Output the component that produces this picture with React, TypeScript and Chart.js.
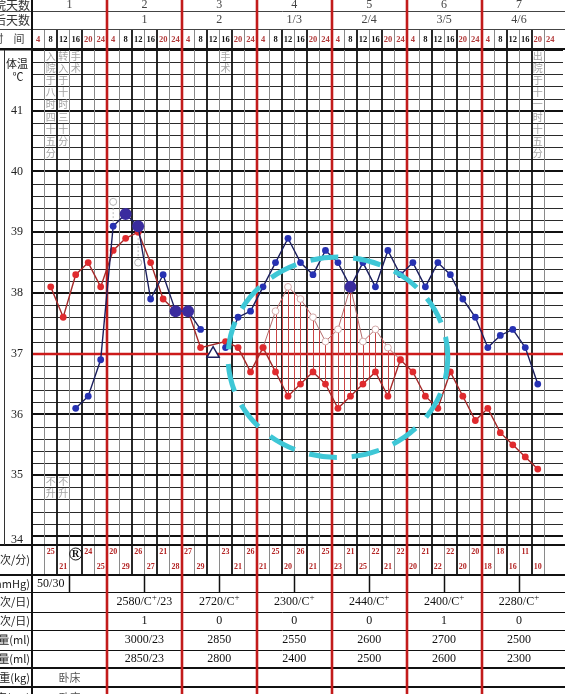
import React, { useEffect, useRef } from "react";
import { Chart, registerables } from "chart.js";

Chart.register(...registerables);

// ---------- data ----------
const dayNumbers = ["1", "2", "3", "4", "5", "6", "7"];
const postOpDays = ["", "1", "2", "1/3", "2/4", "3/5", "4/6"];
const timeLabels = ["4", "8", "12", "16", "20", "24"];
const nightTimes = ["4", "20", "24"];
const tempTicks = [41, 40, 39, 38, 37, 36, 35, 34];

// 42 time slots (7 days x 6)
const blueSeries: (number | null)[] = [
  null, null, null, 36.1, 36.3, 36.9,
  39.1, 39.3, 39.1, 37.9, 38.3, 37.7,
  37.7, 37.4, null, 37.1, 37.6, 37.7,
  38.1, 38.5, 38.9, 38.5, 38.3, 38.7,
  38.5, 38.1, 38.5, 38.1, 38.7, 38.3,
  38.5, 38.1, 38.5, 38.3, 37.9, 37.6,
  37.1, 37.3, 37.4, 37.1, 36.5, null,
];
const blueLarge = [7, 8, 11, 12, 25];

const redSeries: (number | null)[] = [
  null, 38.1, 37.6, 38.3, 38.5, 38.1,
  38.7, 38.9, 39.0, 38.5, 37.9, 37.7,
  37.7, 37.1, null, 37.2, 37.1, 36.7,
  37.1, 36.7, 36.3, 36.5, 36.7, 36.5,
  36.1, 36.3, 36.5, 36.7, 36.3, 36.9,
  36.7, 36.3, 36.1, 36.7, 36.3, 35.9,
  36.1, 35.7, 35.5, 35.3, 35.1, null,
];

const heartSeries: (number | null)[] = [
  null, null, null, null, null, null,
  null, null, null, null, null, null,
  null, null, null, null, null, null,
  37.1, 37.7, 38.1, 37.9, 37.6, 37.2,
  37.4, 38.1, 37.2, 37.4, 37.1, 36.9,
  null, null, null, null, null, null,
  null, null, null, null, null, null,
];

const triangleIndex = 14;
const triangleValue = 37.0;

const coolingIndex = [6, 8];
const coolingFrom = [39.1, 39.1];
const coolingTo = [39.5, 38.5];

const respValues: (number | string | null)[] = [
  null, 25, 21, "R", 24, 25,
  20, 29, 26, 27, 21, 28,
  27, 29, null, 23, 21, 26,
  21, 25, 20, 26, 21, 25,
  23, 21, 25, 22, 21, 22,
  20, 21, 22, 22, 20, 20,
  18, 18, 16, 11, 10, null,
];

const bpValues = ["50/30", "", "", "", "", "", "", "", "", "", "", "", "", ""];
const urineRow = ["", "2580/C+/23", "2720/C+", "2300/C+", "2440/C+", "2400/C+", "2280/C+"];
const stoolRow = ["", "1", "0", "0", "0", "1", "0"];
const intakeRow = ["", "3000/23", "2850", "2550", "2600", "2700", "2500"];
const outputRow = ["", "2850/23", "2800", "2400", "2500", "2600", "2300"];
const weightRow = ["卧床", "", "", "", "", "", ""];
const lastRow = ["卧床", "", "", "", "", "", ""];

const rowLabels = ["呼吸(次/分)", "血压(mmHg)", "尿量(次/日)", "大便(次/日)", "总入量(ml)", "总出量(ml)", "体重(kg)", "身高(cm)"];

const stackedNotes = [
  { col: 1, top: 42, text: "入院于八时四十五分" },
  { col: 2, top: 42, text: "转入于十时三十分" },
  { col: 3, top: 42, text: "手术" },
  { col: 15, top: 42, text: "手术" },
  { col: 40, top: 42, text: "出院于十一时十五分" },
  { col: 1, top: 35, text: "不升" },
  { col: 2, top: 35, text: "不升" },
];

const circleCenterCol = 24.0;
const circleCenterTemp = 36.94;
const circleRadiusCols = 8.8;
const circleRadiusTemp = 1.65;

// ---------- layout ----------
const W = 565;
const H = 694;
const LEFT = 32;
const RIGHT = 563;
const GRID_TOP = 50;
const GRID_BOTTOM = 545;
const Y_MIN = 33.85;
const Y_MAX = 42;
const HEADER_LINES = [11, 29];
const FOOTER_LINES = [575, 592, 612, 630, 650, 668, 687];

const SERIF = '"Liberation Serif", "Noto Sans CJK SC", serif';
const CJK = '"Noto Sans CJK SC", "Liberation Serif", sans-serif';

function toPts(arr: (number | null)[]) {
  return arr.map((v, i) => ({ x: i, y: v }));
}

function text(ctx: CanvasRenderingContext2D, s: string, x: number, y: number, font: string, color: string, align: CanvasTextAlign = "center") {
  ctx.font = font;
  ctx.fillStyle = color;
  ctx.textAlign = align;
  ctx.textBaseline = "middle";
  ctx.fillText(s, x, y);
}

function richText(ctx: CanvasRenderingContext2D, s: string, cx: number, cy: number, size: number, color: string) {
  const parts = s.split("+");
  const main = `${size}px ${SERIF}`;
  const sup = `${Math.round(size * 0.75)}px ${SERIF}`;
  let total = 0;
  const segs: { t: string; sup: boolean; w: number }[] = [];
  parts.forEach((p, i) => {
    ctx.font = main;
    const w = ctx.measureText(p).width;
    segs.push({ t: p, sup: false, w });
    total += w;
    if (i < parts.length - 1) {
      ctx.font = sup;
      const ws = ctx.measureText("+").width;
      segs.push({ t: "+", sup: true, w: ws });
      total += ws;
    }
  });
  let x = cx - total / 2;
  ctx.fillStyle = color;
  ctx.textBaseline = "middle";
  ctx.textAlign = "left";
  segs.forEach((sg) => {
    ctx.font = sg.sup ? sup : main;
    ctx.fillText(sg.t, x, sg.sup ? cy - 4 : cy);
    x += sg.w;
  });
}

function line(ctx: CanvasRenderingContext2D, x1: number, y1: number, x2: number, y2: number, color: string, width: number) {
  ctx.beginPath();
  ctx.strokeStyle = color;
  ctx.lineWidth = width;
  ctx.moveTo(x1, y1);
  ctx.lineTo(x2, y2);
  ctx.stroke();
}

function interp(arr: (number | null)[], x: number): number | null {
  const a = Math.floor(x);
  const b = Math.ceil(x);
  const va = arr[a];
  const vb = arr[b];
  if (va == null || vb == null) return null;
  if (a === b) return va;
  return va + (vb - va) * (x - a);
}

const sheetPlugin = {
  id: "sheet",
  beforeDatasetsDraw(chart: any) {
    const ctx: CanvasRenderingContext2D = chart.ctx;
    const xs = chart.scales.x;
    const ys = chart.scales.y;
    const xP = (v: number) => xs.getPixelForValue(v);
    const yP = (v: number) => ys.getPixelForValue(v);
    const edge = (k: number) => xP(k - 0.5);
    const crisp = (v: number) => Math.round(v) + 0.5;
    ctx.save();
    ctx.fillStyle = "#fff";
    ctx.fillRect(0, 0, W, H);

    // horizontal grid lines
    for (let n = 0; n <= 40; n++) {
      const t = 34 + n * 0.2;
      const y = yP(t);
      if (n % 5 === 0) {
        if (Math.abs(t - 37) < 1e-6) continue;
        line(ctx, LEFT, Math.round(y), RIGHT, Math.round(y), "#111", 2.2);
      } else {
        line(ctx, LEFT, crisp(y), RIGHT, crisp(y), "#2a2a2a", 1);
      }
    }
    // vertical grid lines (grid, time row, respiration row)
    for (let k = 1; k < 42; k++) {
      if (k % 6 === 0) continue;
      const x = edge(k);
      const odd = k % 2 === 1;
      const col = odd ? "#8a8a8a" : "#111";
      const wid = odd ? 1 : 1.8;
      const xx = odd ? crisp(x) : Math.round(x);
      line(ctx, xx, 29, xx, 49, col, wid);
      line(ctx, xx, GRID_TOP, xx, GRID_BOTTOM, col, wid);
      line(ctx, xx, GRID_BOTTOM, xx, FOOTER_LINES[0], col, wid);
    }
    // 37 red line
    line(ctx, LEFT, Math.round(yP(37)), RIGHT, Math.round(yP(37)), "#cc1a1a", 2.4);

    // header/footer horizontal lines
    HEADER_LINES.forEach((y) => line(ctx, 0, crisp(y), W, crisp(y), "#444", 1));
    line(ctx, 0, 49, W, 49, "#111", 2);
    line(ctx, 0, GRID_TOP, LEFT, GRID_TOP, "#111", 1);
    line(ctx, 0, GRID_BOTTOM, W, GRID_BOTTOM, "#111", 2);
    FOOTER_LINES.forEach((y, i) => line(ctx, 0, i === 0 || i >= 5 ? y : crisp(y), W, i === 0 || i >= 5 ? y : crisp(y), "#111", i === 0 || i >= 5 ? 2 : 1));

    // blood pressure half-day separators
    for (let k = 3; k < 42; k += 6) {
      const x = crisp(edge(k));
      line(ctx, x, FOOTER_LINES[0], x, FOOTER_LINES[1], "#111", 1.5);
    }

    // label column lines
    line(ctx, 4.5, GRID_TOP, 4.5, GRID_BOTTOM, "#333", 1);
    line(ctx, LEFT, 0, LEFT, H, "#111", 2);

    // red day lines
    for (let d = 1; d < 7; d++) {
      const x = Math.round(edge(d * 6));
      line(ctx, x, 0, x, H, "#c21b1b", 2.6);
    }

    // header texts
    text(ctx, "住院天数", 30, 5, `12px ${CJK}`, "#333", "right");
    text(ctx, "术后天数", 30, 20, `12px ${CJK}`, "#333", "right");
    text(ctx, "时", -2, 39, `11px ${CJK}`, "#444");
    text(ctx, "间", 19, 39, `11px ${CJK}`, "#444");
    for (let d = 0; d < 7; d++) {
      const cx = (edge(d * 6) + edge(d * 6 + 6)) / 2;
      text(ctx, dayNumbers[d], cx, 5, `12px ${SERIF}`, "#444");
      if (postOpDays[d]) text(ctx, postOpDays[d], cx, 20, `12px ${SERIF}`, "#444");
      for (let s = 0; s < 6; s++) {
        const lbl = timeLabels[s];
        const red = nightTimes.includes(lbl);
        text(ctx, lbl, xP(d * 6 + s), 39.5, `bold 8.5px ${SERIF}`, red ? "#b23a3a" : "#111");
      }
    }

    // temperature axis labels
    text(ctx, "体温", 17, 64, `11px ${CJK}`, "#222");
    text(ctx, "℃", 18, 77, `11px ${CJK}`, "#222");
    tempTicks.forEach((t) => text(ctx, String(t), 17, yP(t) + (t === 34 ? 4 : 0), `12px ${SERIF}`, "#222"));

    // stacked notes
    stackedNotes.forEach((n) => {
      const chars = Array.from(n.text);
      chars.forEach((c, i) => {
        const y = yP(n.top - 0.2 * i - 0.1);
        text(ctx, c, xP(n.col), y, `10px ${CJK}`, "#a3a3a3");
      });
    });

    // footer labels
    const rowBounds = [GRID_BOTTOM, ...FOOTER_LINES, H + 14];
    rowLabels.forEach((l, i) => {
      const cy = (rowBounds[i] + rowBounds[i + 1]) / 2;
      text(ctx, l, 30, cy, `11px ${CJK}`, "#222", "right");
    });

    // respiration
    let ord = 0;
    respValues.forEach((v, i) => {
      if (v == null) return;
      const x = xP(i);
      if (typeof v === "string") {
        ctx.beginPath();
        ctx.strokeStyle = "#111";
        ctx.lineWidth = 1;
        ctx.arc(x, 554, 6, 0, Math.PI * 2);
        ctx.stroke();
        text(ctx, v, x, 554.5, `bold 10px ${SERIF}`, "#111");
        return;
      }
      const top = ord % 2 === 0;
      ord++;
      text(ctx, String(v), x, top ? 552 : 567, `bold 8px ${SERIF}`, "#b32424");
    });

    // blood pressure
    bpValues.forEach((v, h) => {
      if (!v) return;
      const cx = (edge(h * 3) + edge(h * 3 + 3)) / 2;
      text(ctx, v, cx, 583.5, `12px ${SERIF}`, "#111");
    });

    // daily rows
    const daily = [urineRow, stoolRow, intakeRow, outputRow, weightRow, lastRow];
    daily.forEach((row, r) => {
      const cy = (rowBounds[r + 2] + rowBounds[r + 3]) / 2;
      row.forEach((v, d) => {
        if (!v) return;
        const cx = (edge(d * 6) + edge(d * 6 + 6)) / 2;
        if (/[\u4e00-\u9fff]/.test(v)) text(ctx, v, cx, cy, `11px ${CJK}`, "#555");
        else richText(ctx, v, cx, cy, 12, "#111");
      });
    });

    // pulse deficit hatch
    for (let x = 18.5; x <= 28.51; x += 0.5) {
      const a = interp(heartSeries, x);
      const b = interp(redSeries, x);
      if (a == null || b == null) continue;
      const px = crisp(xP(x));
      line(ctx, px, yP(a), px, yP(b), "#c84545", 1);
    }
    ctx.restore();
  },
  afterDatasetsDraw(chart: any) {
    const ctx: CanvasRenderingContext2D = chart.ctx;
    const xs = chart.scales.x;
    const ys = chart.scales.y;
    const cx = xs.getPixelForValue(circleCenterCol);
    const cy = ys.getPixelForValue(circleCenterTemp);
    const rx = Math.abs(xs.getPixelForValue(circleCenterCol + circleRadiusCols) - cx);
    const ry = Math.abs(ys.getPixelForValue(circleCenterTemp + circleRadiusTemp) - cy);
    ctx.save();
    ctx.beginPath();
    ctx.setLineDash([28, 15]);
    ctx.lineDashOffset = 6;
    ctx.strokeStyle = "#3ec7d6";
    ctx.lineWidth = 5;
    ctx.ellipse(cx, cy, rx, ry, 0, 0, Math.PI * 2);
    ctx.stroke();
    ctx.restore();
  },
};

export default function App() {
  const ref = useRef<HTMLCanvasElement>(null);
  useEffect(() => {
    const canvas = ref.current!;
    const coolingSets = coolingIndex.map((ix, k) => ({
      data: [
        { x: ix, y: coolingFrom[k] },
        { x: ix, y: coolingTo[k] },
      ],
      borderColor: "#b9b9b9",
      borderWidth: 1,
      borderDash: [2, 2],
      pointRadius: [0, 3.5],
      pointBackgroundColor: "#fff",
      pointBorderColor: "#b5b5b5",
      pointBorderWidth: 1,
      order: 4,
    }));
    const chart = new Chart(canvas, {
      type: "line",
      data: {
        datasets: [
          {
            data: toPts(blueSeries),
            borderColor: "#1b1f5e",
            borderWidth: 1.4,
            pointRadius: (c: any) => (blueLarge.includes(c.dataIndex) ? 6 : 3.4),
            pointBackgroundColor: (c: any) => (blueLarge.includes(c.dataIndex) ? "#3a2c9e" : "#2631b2"),
            pointBorderColor: (c: any) => (blueLarge.includes(c.dataIndex) ? "#3a2c9e" : "#2631b2"),
            pointBorderWidth: 0,
            spanGaps: false,
            order: 0,
          },
          {
            data: toPts(redSeries),
            borderColor: "#a52a2a",
            borderWidth: 1.4,
            pointRadius: 3.4,
            pointBackgroundColor: "#df2a2e",
            pointBorderColor: "#df2a2e",
            pointBorderWidth: 0,
            spanGaps: true,
            order: 1,
          },
          {
            data: toPts(heartSeries),
            borderColor: "#b56a6a",
            borderWidth: 1,
            pointRadius: 3.4,
            pointBackgroundColor: "#fff",
            pointBorderColor: "#d4aaaa",
            pointBorderWidth: 1,
            spanGaps: false,
            order: 2,
          },
          {
            data: [{ x: triangleIndex, y: triangleValue }],
            showLine: false,
            pointStyle: "triangle",
            pointRadius: 7,
            pointBackgroundColor: "#fff",
            pointBorderColor: "#1b1f5e",
            pointBorderWidth: 1.5,
            order: 0,
          },
          ...coolingSets,
        ] as any,
      },
      options: {
        responsive: false,
        animation: false,
        devicePixelRatio: 1,
        events: [],
        layout: { padding: { left: LEFT, right: W - RIGHT, top: GRID_TOP, bottom: H - GRID_BOTTOM } },
        plugins: { legend: { display: false }, tooltip: { enabled: false } },
        scales: {
          x: { type: "linear", min: -0.5, max: 41.5, display: false },
          y: { type: "linear", min: Y_MIN, max: Y_MAX, display: false },
        },
      } as any,
      plugins: [sheetPlugin],
    });
    return () => chart.destroy();
  }, []);
  return (
    <div style={{ position: "fixed", left: 0, top: 0, width: W, height: H, background: "#fff", overflow: "hidden" }}>
      <canvas ref={ref} width={W} height={H} style={{ display: "block", width: W, height: H }} />
    </div>
  );
}
